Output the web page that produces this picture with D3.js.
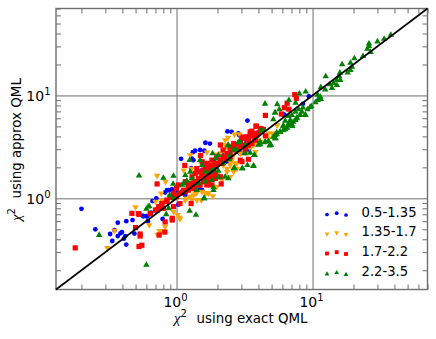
<!DOCTYPE html>
<meta charset="utf-8">
<script src="https://d3js.org/d3.v7.min.js"></script>
<style>
    body { margin: 0; background: #fff; }
    text { font-family: "DejaVu Sans"; fill: #000; }
    .domain { display: none; }
</style>
<body>
<svg id="chart" width="436" height="339"></svg>
<script>
// values, exact QML (x) and approx QML (y) per bin
var blueExact = [0.2,0.253,0.37,0.427,0.475,0.325,0.35,0.397,0.387,0.37,0.337,0.42,0.41,0.427,0.49,0.56,0.61,0.65,0.616,0.71,0.79,0.825,0.875,0.925,1.03,3.32,2.37,2.54,1.63,1.76,1.37,1.32,1.6,1.08,1.29,1.33,3.25,2.35,1.67,1.28,1.37,1.49,0.85,0.9,0.95,1.0,0.666,0.57,0.6,2.78,2.94,2.48,1.87,1.54,1.19,1.1,2.9,3.3,3.1,2.78,6.2,8.5,9.4,
  2.85,2.94,2.78,3.35,2.35,6.1,1.49,1.37,1.72,2.16,1.87,1.16,1.0,1.54];
var blueApprox = [0.79,0.5,0.58,0.6,0.615,0.45,0.49,0.47,0.457,0.43,0.385,0.43,0.405,0.355,0.455,0.68,0.67,0.725,0.6,1.0,0.63,1.14,1.2,1.22,0.867,5.7,4.47,4.43,3.47,3.41,2.9,2.81,2.9,2.42,2.44,2.35,3.68,2.73,2.19,1.97,1.75,1.22,1.2,1.2,1.2,1.16,0.94,0.67,0.67,2.83,2.73,2.63,2.1,1.88,1.4,1.16,4.1,3.05,2.77,3.05,6.5,8.3,9.8,
  4.28,3.05,3.0,2.98,2.27,6.5,2.95,1.4,1.35,2.63,2.35,1.07,1.04,1.2];

var orangeExact = [0.31,0.35,0.5,0.72,0.83,0.77,0.7,0.78,0.63,0.825,0.75,0.77,0.725,1.02,1.06,0.95,2.39,2.28,2.3,2.67,2.9,1.67,1.52,1.13,1.29,0.8,1.19,1.37,1.63,1.72,1.41,1.52,1.85,1.3,1.05,2.35,2.35,2.55,2.78,3.8,4.0,3.2,2.1,2.2,1.98,1.77,1.33,1.16,1.26,2.48,2.78,5.5,5.02,4.75,3.79,3.48,3.2,
  5.46,4.75,4.12,3.9,3.68,2.35,2.63,2.7,2.48,2.94,1.26,1.98,2.63,2.48,2.16,1.98,1.67,1.54,1.41,1.33,1.26,1.16];
var orangeApprox = [0.33,0.485,0.82,1.66,1.45,1.12,0.93,0.95,0.55,0.53,0.48,0.48,0.445,0.69,0.63,0.74,3.9,3.68,3.3,4.18,4.2,2.8,2.27,1.87,1.95,0.95,1.0,1.12,1.12,1.12,0.96,0.96,1.05,0.96,0.65,1.95,1.81,2.35,2.19,2.83,3.68,3.16,2.73,2.1,1.68,1.62,1.45,1.2,1.25,2.1,1.95,5.15,4.28,3.82,3.42,3.05,2.77,
  5.15,4.28,3.55,3.41,3.3,3.16,2.63,2.19,2.27,2.73,2.63,2.68,1.81,1.62,1.5,1.3,1.13,1.16,1.13,1.07,1.04,0.96];

var redExact = [0.18,0.47,0.525,0.5,0.54,0.54,0.53,0.556,0.746,0.825,0.82,0.93,0.72,0.7,0.74,0.78,0.85,0.9,0.95,2.1,1.5,1.15,2.13,3.38,3.03,3.86,3.1,3.38,3.52,4.0,3.8,3.58,3.3,2.94,2.7,2.63,2.85,3.2,2.48,2.28,2.16,1.98,1.82,1.87,1.72,1.63,1.77,1.93,1.54,1.45,1.58,1.72,1.37,1.49,1.3,1.22,1.37,1.16,1.06,1.0,0.93,0.85,0.78,0.74,0.72,0.8,0.64,0.53,0.93,1.67,1.63,2.1,1.06,1.28,0.95,7.4,7.6,6.5,6.2,6.7,5.9,4.5,3.58,4.35,4.12,3.48,3.68,3.9,4.5,3.03,3.38,2.7,2.63,
  3.48,3.84,4.2,3.2,3.38,3.62,3.03,2.94,3.1,3.48,2.94,3.3,3.75,
  1.16,1.26,1.37,1.45,1.54,1.67,1.77,1.87,1.98,2.1,2.2,2.35,2.48,1.93,1.72,1.58,1.45,1.33,1.22,1.13,1.06,1.37,1.49,1.63,1.77,1.93,2.1,1.3,1.41,1.58,1.67,1.82,1.98,1.54,2.2,2.48,2.63,1.0,0.98,1.03,1.22,1.82,1.67,1.87];
var redApprox = [0.33,0.715,0.71,0.52,0.45,0.43,0.34,0.35,0.44,0.59,0.47,0.615,1.38,0.77,0.8,0.86,0.96,1.04,1.12,3.3,2.6,2.09,1.38,2.4,2.27,5.03,3.95,3.95,4.2,4.33,3.68,3.41,3.3,3.41,3.3,2.95,3.05,2.95,2.53,2.44,2.19,2.19,2.03,1.88,1.88,1.75,1.68,1.56,1.68,1.56,1.5,1.45,1.45,1.35,1.35,1.25,1.25,1.16,1.12,1.04,1.02,0.93,0.89,0.83,0.77,0.8,0.71,0.7,0.64,1.35,2.03,1.62,0.89,0.89,0.83,10.2,9.4,8.4,7.6,7.35,6.6,6.4,4.5,4.68,4.78,4.1,4.28,4.1,4.05,3.82,3.3,3.25,3.05,
  4.43,5.03,4.7,3.82,3.68,4.05,3.82,3.5,3.3,3.41,2.35,3.95,3.82,
  1.45,1.4,1.75,1.81,1.68,1.95,2.1,1.88,2.19,2.35,2.53,2.73,2.83,1.75,1.56,1.45,1.35,1.25,1.2,1.2,1.12,1.45,1.56,1.68,1.81,2.03,2.19,1.62,1.95,1.88,2.19,2.35,2.53,2.27,2.95,3.16,3.41,1.25,1.07,1.35,1.35,1.35,1.5,1.56];

var greenExact = [0.27,0.53,0.8,0.95,0.945,0.6,0.6,0.63,0.84,0.875,1.25,1.39,1.59,37.6,33.6,30,26,26,25.3,26.7,23.5,20.3,19,19.5,16.5,19,18.1,15.9,15.7,16,12.5,14.3,15.1,13.4,11.5,13.9,12.4,15.1,8.9,8,10.9,11.4,11.5,10.9,10.5,9.8,9.2,9.6,8.5,7.9,7.5,6.7,4.47,5.5,5.7,5.3,5.15,7.05,7.5,8.35,8.85,8.1,7.66,7.5,6.66,6.3,6.85,6.66,7.1,6.1,6.3,5.78,5.46,5.3,5.35,4.5,4.12,4,4.95,4.83,4.35,4.17,2.9,3.48,3.73,3.2,1.25,1.84,1.93,2.39,2.63,3.06,2.67,3.32,3.68,1.87,2.03,1.6,1.87,0.95,0.89,0.62,1.19,1.1,1.3,1.54,1.77,1.63,1.41,2.48,2.78,3.2,1.26,
  5.15,5.46,5.78,5.3,6.1,6.5,6.1,6.66,7.05,6.85,7.2,7.66,8.1,8.85,4.75,4.88,4.45,4.12,3.75,3.68,3.03,2.63,2.4,2.85,5.3,
  2.03,1.63,2.03,2.28,2.4,1.82,1.87,1.45,1.16,1.13,2.2,1.49,2.44];
var greenApprox = [0.44,1.66,1.58,1.65,1.38,0.225,0.79,0.84,0.7,0.8,0.753,0.69,1.0,38.7,35.4,33.4,31.9,30.1,28.3,26.4,24.1,22.9,20.7,18.9,20,17.6,16.7,16.6,15.4,14.1,15.3,13.2,12.6,12.8,12,11.8,11.4,14.1,10.9,10.4,10.1,9.7,9.2,9,8.55,7.87,7.3,7.7,7.6,7.3,8.46,9,8.3,8.2,7.3,6.8,5.85,6.43,6.94,6.94,6.43,6.43,6.1,5.75,6.3,5.67,5.53,5.15,5.03,5.03,4.68,4.43,4.37,4.12,3.82,3.55,3.55,3.3,3.3,3.25,4.6,4.53,3.55,2.77,2.63,2.73,2.35,2.73,2.44,3.25,2.98,1.95,1.97,2.1,2.06,1.91,1.6,1.0,1.28,1.0,1.07,0.83,1.48,1.35,1.56,2.1,1.81,1.45,1.2,2.63,2.95,3.3,1.81,
  3.95,4.18,4.43,3.82,4.6,4.85,5.1,5.33,5.22,5.75,5.53,6,6.43,6.5,3.6,3.3,3.5,3.35,2.63,2.07,1.95,1.95,3.3,3.5,6.8,
  2.63,1.81,1.85,1.62,1.56,1.5,1.2,1.4,1.68,1.4,2.19,2.35,2.39];

var binLabels = ["0.5-1.35", "1.35-1.7", "1.7-2.2", "2.2-3.5"];
var binColors = ["#0000ff", "#ffa500", "#ff0000", "#008000"];
var binShapes = ["circle", "down", "square", "up"];
var xValues = [blueExact, orangeExact, redExact, greenExact];
var yValues = [blueApprox, orangeApprox, redApprox, greenApprox];
var axisDomain = [0.13, 70];
var majorTicks = [1, 10];

var svg = d3.select("#chart");
var margin = {left: 56, right: 427.5, top: 8.5, bottom: 289.5};
var x = d3.scaleLog().domain(axisDomain).range([margin.left, margin.right]);
var y = d3.scaleLog().domain(axisDomain).range([margin.bottom, margin.top]);
var w = margin.right - margin.left, h = margin.bottom - margin.top;

var minorTicks = x.ticks().filter(function (d) { return majorTicks.indexOf(d) < 0; });
var tickColor = "#6e6e6e";

function styleAxis(g) {
  g.selectAll("line").attr("stroke", tickColor).attr("stroke-width", 1);
  g.select(".domain").remove();
}

// minor ticks on all four sides, majors run across as the grid
[[d3.axisBottom(x), margin.bottom, 0, -5, -h], [d3.axisTop(x), margin.top, 0, -5, 0],
 [d3.axisLeft(y), 0, margin.left, -5, -w], [d3.axisRight(y), 0, margin.right, -5, 0]].forEach(function (a) {
  var tr = "translate(" + a[2] + "," + a[1] + ")";
  svg.append("g").attr("transform", tr)
    .call(a[0].tickValues(minorTicks).tickSize(a[3]).tickFormat(""))
    .call(styleAxis);
  if (a[4]) {
    svg.append("g").attr("transform", tr)
      .call(a[0].tickValues(majorTicks).tickSize(a[4]).tickFormat(""))
      .call(styleAxis);
  }
});

svg.append("rect")
  .attr("x", margin.left).attr("y", margin.top).attr("width", w).attr("height", h)
  .attr("fill", "none").attr("stroke", tickColor).attr("stroke-width", 1.4);

function exponent(d) { return Math.round(Math.log10(d)); }

// tick labels, 10 with a raised exponent
majorTicks.forEach(function (d) {
  var t = svg.append("text").attr("x", x(d) - 1).attr("y", 306.5)
    .attr("text-anchor", "middle").attr("font-size", 14).text("10");
  t.append("tspan").attr("dy", -6).attr("font-size", 10).text(exponent(d));
  var l = svg.append("text").attr("x", 50.5).attr("y", y(d) + 6)
    .attr("text-anchor", "end").attr("font-size", 14).text("10");
  l.append("tspan").attr("dy", -6).attr("font-size", 10).text(exponent(d));
});

function shapePath(shape, size) {
  var type = shape === "circle" ? d3.symbolCircle : shape === "square" ? d3.symbolSquare : d3.symbolTriangle;
  return d3.symbol().type(type).size(size)();
}
var markSize = {circle: 18, down: 18, square: 27, up: 18};
var legendSize = {circle: 11, down: 10, square: 15, up: 10};

binLabels.forEach(function (label, i) {
  var pts = d3.range(xValues[i].length);
  svg.append("g").selectAll("path")
    .data(pts)
    .enter()
    .append("path")
      .attr("d", shapePath(binShapes[i], markSize[binShapes[i]]))
      .attr("fill", binColors[i])
      .attr("transform", function (k) {
        return "translate(" + x(xValues[i][k]) + "," + y(yValues[i][k]) + ")" +
          (binShapes[i] === "down" ? " rotate(180)" : "");
      });
});

// one to one line
svg.append("line")
  .attr("x1", x(axisDomain[0])).attr("y1", y(axisDomain[0]))
  .attr("x2", x(axisDomain[1])).attr("y2", y(axisDomain[1]))
  .attr("stroke", "#000").attr("stroke-width", 1.6);

// legend, three scatter points per row
var legendX = [327, 336.7, 346];
var legendOffset = [0.5, -0.8, 1];
var legendRows = [214, 233.5, 253, 273.5];
binLabels.forEach(function (label, i) {
  legendX.forEach(function (lx, j) {
    svg.append("path")
      .attr("d", shapePath(binShapes[i], legendSize[binShapes[i]]))
      .attr("fill", binColors[i])
      .attr("transform", "translate(" + lx + "," + (legendRows[i] + legendOffset[j]) + ")" +
        (binShapes[i] === "down" ? " rotate(180)" : ""));
  });
  svg.append("text").attr("x", 361.5).attr("y", legendRows[i] + 2.5)
    .attr("font-size", 13.2).text(label);
});

// axis labels
var xl = svg.append("text").attr("x", 174).attr("y", 323).attr("font-size", 13.4);
xl.append("tspan").attr("font-style", "italic").attr("font-size", 15).attr("font-family", "Liberation Serif").text("\u03c7");
xl.append("tspan").attr("dy", -6).attr("font-size", 10).text("2");
xl.append("tspan").attr("dy", 6).attr("dx", 9.5).text("using exact QML");

var yl = svg.append("text").attr("transform", "translate(21,221) rotate(-90)").attr("font-size", 13.4);
yl.append("tspan").attr("font-style", "italic").attr("font-size", 15).attr("font-family", "Liberation Serif").text("\u03c7");
yl.append("tspan").attr("dy", -6).attr("font-size", 10).text("2");
yl.append("tspan").attr("dy", 6).attr("dx", 9.5).text("using approx QML");
</script>
</body>
